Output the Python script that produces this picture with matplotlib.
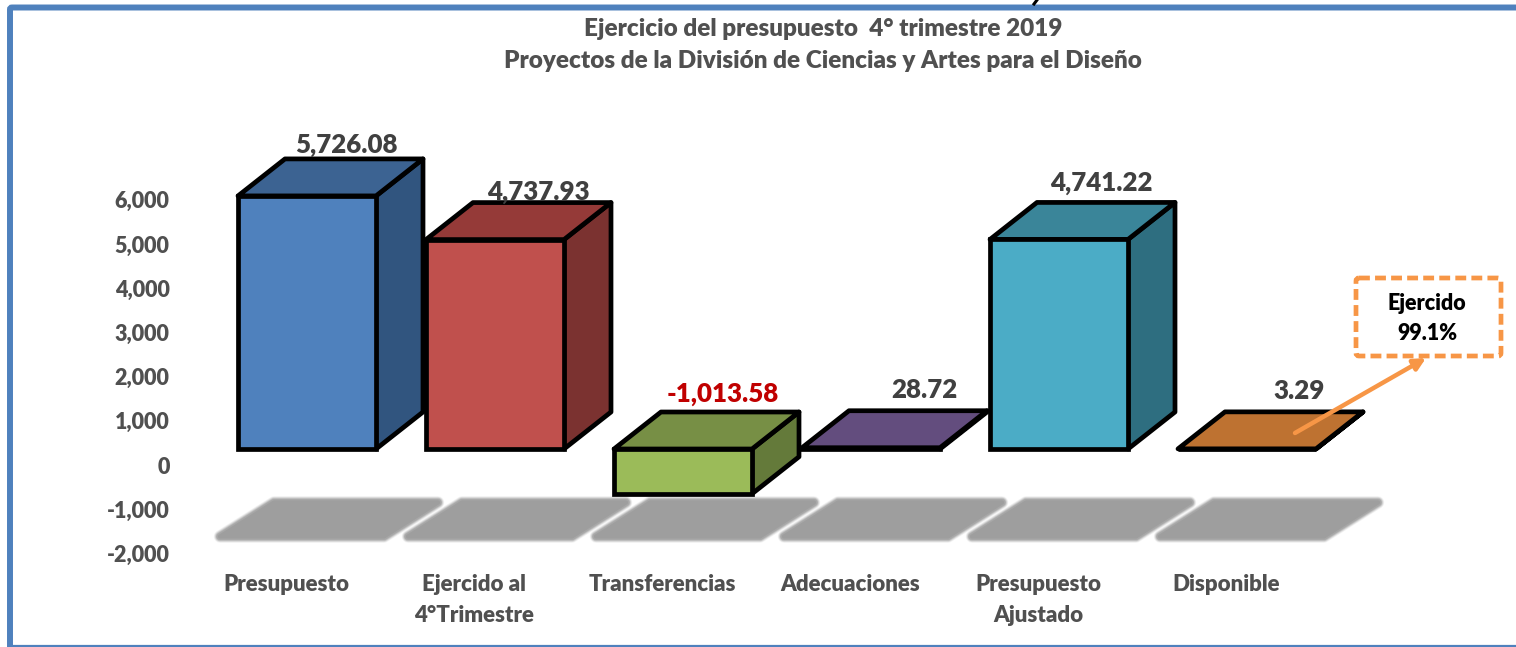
import matplotlib
matplotlib.use('Agg')
import matplotlib.pyplot as plt
from matplotlib.patches import Polygon, FancyBboxPatch
from matplotlib.transforms import ScaledTranslation

plt.rcParams['font.family'] = ['Lato', 'DejaVu Sans']
plt.rcParams['font.weight'] = 800

categories = ['Presupuesto', 'Ejercido al\n4°Trimestre', 'Transferencias',
              'Adecuaciones', 'Presupuesto\nAjustado', 'Disponible']
values = [5726.08, 4737.93, -1013.58, 28.72, 4741.22, 3.29]
value_labels = ['5,726.08', '4,737.93', '-1,013.58', '28.72', '4,741.22', '3.29']
y_ticks = [6000, 5000, 4000, 3000, 2000, 1000, 0, -1000, -2000]
y_tick_labels = ['6,000', '5,000', '4,000', '3,000', '2,000', '1,000', '0', '-1,000', '-2,000']
front_colors = ['#4F81BD', '#C0504D', '#9BBB59', '#8064A2', '#4BACC6', '#F79646']
top_colors = ['#3C6392', '#953A38', '#778F45', '#634D7E', '#3A8599', '#BE7231']
side_colors = ['#31557F', '#7B3230', '#647A3A', '#523F68', '#2E6E80', '#9C5E28']
label_colors = ['#404040', '#404040', '#C00000', '#404040', '#404040', '#404040']
# pixel offset of each value label from the front centre of the bar top
label_offsets = [(39, 51), (43, 48), (40, 55), (53, 58), (42, 56), (52, 58)]

W, H = 1516, 647
PX_X = 188.0     # pixels per category
PX_Y = 0.0442    # pixels per unit
BAR_W = 138 / PX_X
DEPTH_X = 47 / PX_X
DEPTH_Y = 37 / PX_Y
TEXT = '#505050'

fig = plt.figure(figsize=(W / 100, H / 100), dpi=100, facecolor='white')

# outer frame, open to the right and cut by the bottom of the picture
frame = fig.add_axes([0, 0, 1, 1])
frame.set_xlim(0, W)
frame.set_ylim(H, 0)
frame.axis('off')
frame.add_patch(FancyBboxPatch((10, 7.5), W + 40, H + 40, boxstyle='round,pad=0,rounding_size=2',
                               fc='white', ec='#4F81BD', lw=4.3))
frame.plot([10, W], [646, 646], color='#4F81BD', lw=1.6)
# sliver of a heading cut off by the top of the picture
frame.plot([1037, 1034], [0, 4], color='black', lw=2.2)

# plot area: 180..1400 px, 130..570 px, value 0 at 449 px
left, right, top, bottom = 180, 1400, 130, 570
ax = fig.add_axes([left / W, 1 - bottom / H, (right - left) / W, (bottom - top) / H])
ax.patch.set_alpha(0)
ax.set_xlim((left - 307) / PX_X, (right - 307) / PX_X)
ax.set_ylim((449 - bottom) / PX_Y, (449 - top) / PX_Y)
for s in ax.spines.values():
    s.set_visible(False)

# tick labels sit lower and further left than the front plane of the bars
ax.set_yticks(y_ticks, y_tick_labels)
ax.tick_params(axis='y', length=0, pad=7.5, labelsize=15.5, labelcolor=TEXT)
shift = ScaledTranslation(0, -16 / 100, fig.dpi_scale_trans)
for lab in ax.get_yticklabels():
    lab.set_transform(lab.get_transform() + shift)

ax.set_xticks(range(len(categories)), categories)
ax.tick_params(axis='x', length=0, pad=3.2, labelsize=16, labelcolor=TEXT)
shift_x = ScaledTranslation(-21 / 100, 0, fig.dpi_scale_trans)
for lab in ax.get_xticklabels():
    lab.set_transform(lab.get_transform() + shift_x)
    lab.set_linespacing(1.55)

# soft floor shadows: an inset core with wide faint round strokes around it
shadow_top, shadow_bottom = -1210, -1980
for i in range(len(categories)):
    x0 = i - 87 / PX_X
    pts = [(x0, shadow_bottom), (x0 + 54 / PX_X, shadow_top),
           (x0 + 218 / PX_X, shadow_top), (x0 + 164 / PX_X, shadow_bottom)]
    for lw, alpha in [(9, 0.12), (8, 0.2), (7, 0.3), (6, 0.45), (5, 0.6), (3, 1)]:
        ax.add_patch(Polygon(pts, closed=True, fc='#9E9E9E', ec='#9E9E9E', lw=lw,
                             alpha=alpha, joinstyle='round', zorder=1))

# bars: front from the library, top and side faces derived from the value
for i, v in enumerate(values):
    z = 2 + i
    x0 = i - BAR_W / 2
    x1 = i + BAR_W / 2
    hi = max(v, 0)
    lo = min(v, 0)
    edge = dict(ec='black', lw=3.4, joinstyle='round', zorder=z)
    ax.add_patch(Polygon([(x1, lo), (x1 + DEPTH_X, lo + DEPTH_Y), (x1 + DEPTH_X, hi + DEPTH_Y), (x1, hi)],
                         closed=True, fc=side_colors[i], **edge))
    ax.add_patch(Polygon([(x0, hi), (x0 + DEPTH_X, hi + DEPTH_Y), (x1 + DEPTH_X, hi + DEPTH_Y), (x1, hi)],
                         closed=True, fc=top_colors[i], **edge))
    ax.bar(i, v, width=BAR_W, color=front_colors[i], edgecolor='black', linewidth=3.4, zorder=z)
    ax.annotate(value_labels[i], (i, hi), xytext=(label_offsets[i][0] * 0.72, label_offsets[i][1] * 0.72),
                textcoords='offset points', ha='center', va='center', fontsize=18.6,
                color=label_colors[i], zorder=20)

# title and callout live in pixel space
frame2 = fig.add_axes([0, 0, 1, 1])
frame2.set_xlim(0, W)
frame2.set_ylim(H, 0)
frame2.axis('off')
frame2.patch.set_alpha(0)
frame2.text(823, 29, 'Ejercicio del presupuesto  4° trimestre 2019', ha='center', va='center',
            fontsize=17.5, color=TEXT)
frame2.text(823, 61, 'Proyectos de la División de Ciencias y Artes para el Diseño', ha='center', va='center',
            fontsize=17.5, color=TEXT)
frame2.add_patch(FancyBboxPatch((1356, 278), 145, 78, boxstyle='round,pad=0,rounding_size=3', fc='white',
                                ec='#F79646', lw=3.4, ls=(0, (2.3, 1.1))))
frame2.text(1427, 304, 'Ejercido', ha='center', va='center', fontsize=15.5, color='black')
frame2.text(1427, 333, '99.1%', ha='center', va='center', fontsize=15.5, color='black')
frame2.annotate('', xy=(1426, 358), xytext=(1295, 433),
                arrowprops=dict(arrowstyle='-|>,head_width=0.35,head_length=0.7', color='#F79646', lw=3.2,
                                shrinkA=0, shrinkB=0))

fig.savefig('out.png', dpi=100)
